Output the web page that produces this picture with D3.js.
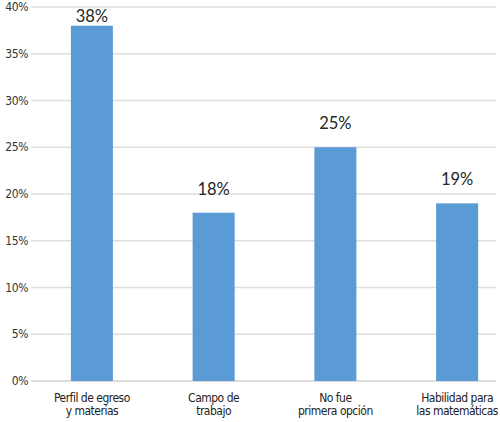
<!DOCTYPE html>
<html><head><meta charset="utf-8">
<script src="https://cdn.jsdelivr.net/npm/d3@7/dist/d3.min.js"></script>
<style>
body{margin:0;background:#fff;}
svg{display:block;}
</style></head>
<body>
<svg id="chart" width="500" height="422"></svg>
<script>
const categories = [["Perfil de egreso","y materias"],["Campo de","trabajo"],["No fue","primera opción"],["Habilidad para","las matemáticas"]];
const values = [38, 18, 25, 19];
const yTicks = [0,5,10,15,20,25,30,35,40];

const svg = d3.select("#chart");
const plotLeft = 31, plotRight = 496;
const x = d3.scaleBand().domain(d3.range(categories.length)).range([10, 539]).paddingInner(0.655).paddingOuter(0.5);
const y = d3.scaleLinear().domain([0,40]).range([381, 7]);

// grid
svg.append("g").selectAll("line").data(yTicks).join("line")
  .attr("x1", plotLeft).attr("x2", plotRight)
  .attr("y1", d=>y(d)).attr("y2", d=>y(d))
  .attr("stroke", d=> d===0 ? "#d0d0d0" : "#dedede").attr("stroke-width", 1.3);

// y labels
svg.append("g").selectAll("text").data(yTicks).join("text")
  .attr("x", 28).attr("y", d=>y(d)).attr("dy","0.35em")
  .attr("text-anchor","end")
  .attr("font-family","'DejaVu Sans Condensed',sans-serif")
  .attr("font-size", 12).attr("letter-spacing","-0.4px").attr("fill","#333")
  .text(d=>d+"%");

// bars
svg.append("g").selectAll("rect").data(values).join("rect")
  .attr("x",(d,i)=>x(i)).attr("width", x.bandwidth())
  .attr("y", d=>y(d)).attr("height", d=>y(0)-y(d))
  .attr("fill","#5b9bd5");

// value labels
svg.append("g").selectAll("text").data(values).join("text")
  .attr("x",(d,i)=>x(i)+x.bandwidth()/2)
  .attr("y", d=>Math.max(y(d)-18, 22))
  .attr("text-anchor","middle")
  .attr("font-family","Lato, 'Open Sans', sans-serif")
  .attr("font-size", 16.5).attr("fill","#262626")
  .text(d=>d+"%");

// category labels
const cg = svg.append("g").selectAll("text").data(categories).join("text")
  .attr("text-anchor","middle")
  .attr("font-family","'DejaVu Sans Condensed',sans-serif")
  .attr("font-size", 12).attr("letter-spacing","-0.5px").attr("fill","#222")
  .attr("transform",(d,i)=>`translate(${x(i)+x.bandwidth()/2},0)`);
cg.selectAll("tspan").data(d=>d).join("tspan")
  .attr("x",0).attr("y",(d,j)=>401.5 + j*13)
  .text(d=>d);
</script>
</body></html>
